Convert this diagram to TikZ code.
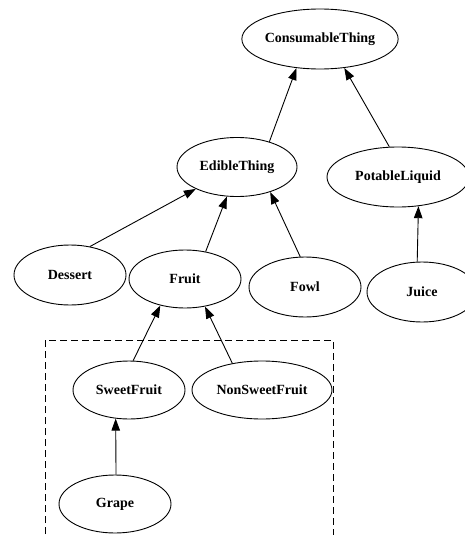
\documentclass[tikz,border=0pt]{standalone}
\usepackage{fontspec}
\setmainfont{Liberation Serif}
\usetikzlibrary{shapes.geometric,arrows.meta}
\begin{document}
\begin{tikzpicture}[x=1pt,y=-1pt,
  cls/.style={draw,ellipse,line width=0.9pt,inner sep=0pt,
    font=\fontsize{14}{16}\selectfont\bfseries},
  isa/.style={-{Triangle[length=12pt,width=8.5pt]},line width=0.9pt},
  grp/.style={draw,line width=0.9pt,dash pattern=on 7pt off 4pt}]
\useasboundingbox (0,0) rectangle (465,535);
\clip (0,0) rectangle (465,535);
\fill[white] (0,0) rectangle (465,535);
% cluster
\draw[grp] (45,545) -- (45,340) -- (333,340) -- (333,545);
% nodes
\node[cls,minimum width=156pt,minimum height=60pt] (cons) at (320,39) {ConsumableThing};
\node[cls,minimum width=120pt,minimum height=59pt] (edible) at (237,167) {EdibleThing};
\node[cls,minimum width=142pt,minimum height=60pt] (potable) at (398,177) {PotableLiquid};
\node[cls,minimum width=112pt,minimum height=60pt] (dessert) at (70,275) {Dessert};
\node[cls,minimum width=112pt,minimum height=58pt] (fruit) at (185,279) {Fruit};
\node[cls,minimum width=112pt,minimum height=60pt] (fowl) at (305,287) {Fowl};
\node[cls,minimum width=110pt,minimum height=60pt] (juice) at (422,292) {Juice};
\node[cls,minimum width=112pt,minimum height=58pt] (sweet) at (129,390) {SweetFruit};
\node[cls,minimum width=140pt,minimum height=58pt] (nonsweet) at (262,390) {NonSweetFruit};
\node[cls,minimum width=112pt,minimum height=58pt] (grape) at (115,504) {Grape};
% edges
\draw[isa] (edible.38.9) -- (cons.231.6);
\draw[isa] (potable.106.7) -- (cons.-50.2);
\draw[isa] (dessert.55.4) -- (edible.208.4);
\draw[isa] (fruit.53.5) -- (edible.251.6);
\draw[isa] (fowl.99.8) -- (edible.-37.9);
\draw[isa] (juice.99.5) -- (potable.-55.8);
\draw[isa] (sweet.82) -- (fruit.227);
\draw[isa] (nonsweet.138.8) -- (fruit.-54.1);
\draw[isa] (grape.88) -- (sweet.245.9);
\end{tikzpicture}
\end{document}
